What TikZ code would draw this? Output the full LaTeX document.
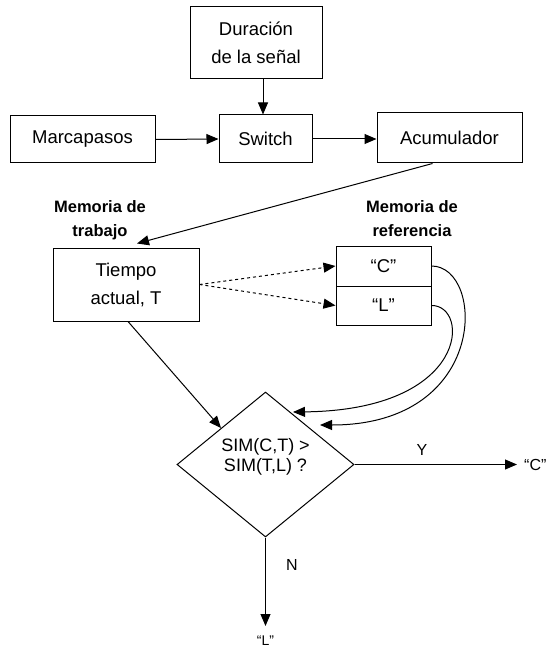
\documentclass[tikz,border=0pt]{standalone}
\usepackage{fontspec}
\setmainfont{Liberation Sans}
\usetikzlibrary{shapes.geometric,arrows.meta}
\begin{document}
\begin{tikzpicture}[x=1pt,y=-1pt,
  box/.style={draw,line width=1pt,inner sep=0pt,align=center,font=\fontsize{18.5}{28}\selectfont},
  arr/.style={line width=1pt,-{Triangle[length=12pt,width=10pt]}},
  lbl/.style={font=\fontsize{16.5}{24}\selectfont\bfseries,align=center},
  txt/.style={font=\fontsize{16}{19}\selectfont,inner sep=0pt}]
\useasboundingbox (0,0) rectangle (549,652);
\node[box,minimum width=132pt,minimum height=72pt] (dur) at (256,43) {Duración\\de la señal};
\node[box,minimum width=145pt,minimum height=47pt] (marc) at (82.5,139.5) {Marcapasos};
\node[box,minimum width=93pt,minimum height=48pt] (sw) at (265.5,139) {Switch};
\node[box,minimum width=145pt,minimum height=50pt] (acum) at (449.5,138) {Acumulador};
\node[lbl] (mt) at (100,220) {Memoria de\\trabajo};
\node[lbl] (mr) at (412,219) {Memoria de\\referencia};
\node[box,minimum width=146pt,minimum height=73pt] (tiempo) at (126,284.5) {Tiempo\\actual, T};
\node[box,minimum width=95pt,minimum height=40pt] (refC) at (383.5,266) {“C”};
\node[box,minimum width=95pt,minimum height=39pt] (refL) at (383.5,305.5) {“L”};
\node[draw,diamond,line width=1pt,inner sep=0pt,minimum width=177pt,minimum height=145pt] (dia) at (265.5,464.5) {};
\node[align=center,inner sep=0pt,font=\fontsize{18}{20}\selectfont] (q) at (265.5,457) {SIM(C,T) >\\SIM(T,L) ?};
\coordinate (outC) at (517,464.5);
\coordinate (outL) at (265.5,626);
\coordinate (endL) at (293,412);
\coordinate (endC) at (320,425);
\node[txt,anchor=west] (tC) at (524,465) {“C”};
\node[txt,font=\fontsize{14}{16}\selectfont] (tL) at (265.5,641) {“L”};
\node[txt] (Y) at (422,450) {Y};
\node[txt] (N) at (292,565) {N};
\draw[arr] ([xshift=7pt]dur.south) -- ([xshift=-2.5pt]sw.north);
\draw[arr] (marc.east) -- (sw.west);
\draw[arr] (sw.east) -- (sw.east -| acum.west);
\draw[arr] ([xshift=-17pt]acum.south) -- ([xshift=11pt,yshift=4pt]tiempo.north);
\draw[arr,dashed] (tiempo.east) -- (refC.west);
\draw[arr,dashed] (tiempo.east) -- (refL.west);
\draw[arr] (refC.east) .. controls (485,266) and (490,425) .. (endC);
\draw[arr] (refL.east) .. controls (470,305) and (470,410) .. (endL);
\draw[arr] ([xshift=2pt]tiempo.south) -- (dia.north west);
\draw[arr] (dia.east) -- (outC);
\draw[arr] (dia.south) -- (outL);
\end{tikzpicture}
\end{document}
